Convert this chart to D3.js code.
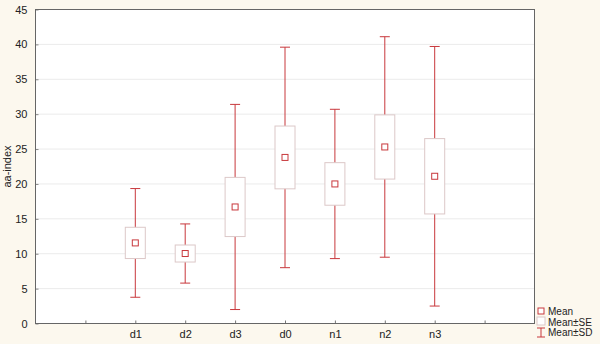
<!DOCTYPE html>
<html>
<head>
<meta charset="utf-8">
<script src="https://cdn.jsdelivr.net/npm/d3@7"></script>
<style>
  html, body { margin: 0; padding: 0; background: #fcf8ee; }
  svg { display: block; font-family: "Liberation Sans", Arial, sans-serif; }
</style>
</head>
<body>
<svg id="chart" width="600" height="344"></svg>
<script>
// Groups and their summary statistics (aa-index)
const categories = ["d1", "d2", "d3", "d0", "n1", "n2", "n3"];
const means = [11.55, 10.03, 16.7, 23.8, 20.0, 25.3, 21.1];
const stdErrors = [2.24, 1.22, 4.24, 4.5, 3.05, 4.6, 5.4];
const stdDevs = [7.79, 4.24, 14.7, 15.8, 10.7, 15.8, 18.6];
const yTicks = [0, 5, 10, 15, 20, 25, 30, 35, 40, 45];
const legendItems = ["Mean", "Mean±SE", "Mean±SD"];

const svg = d3.select("#chart");
const margin = { left: 35.5, right: 65.5, top: 9.5, bottom: 20.5 };
const W = 600, H = 344;
const x0 = margin.left, x1 = W - margin.right;
const y0 = H - margin.bottom, y1 = margin.top;

// blank slots on either side of the groups
const domain = ["_l"].concat(categories, ["_r"]);
const x = d3.scalePoint().domain(domain).range([x0, x1]).padding(1);
const y = d3.scaleLinear().domain([0, 45]).range([y0, y1]);

const red = "#c8383c";
const boxStroke = "#dcc8c8";

// plot area
svg.append("rect").attr("x", x0).attr("y", y1)
  .attr("width", x1 - x0).attr("height", y0 - y1).attr("fill", "#ffffff");

// horizontal gridlines
svg.append("g").selectAll("line").data(yTicks.filter(t => t > 0 && t < 45)).join("line")
  .attr("x1", x0).attr("x2", x1)
  .attr("y1", d => y(d)).attr("y2", d => y(d))
  .attr("stroke", "#ebebeb").attr("stroke-width", 1);

// y axis
const yAxis = svg.append("g").attr("transform", `translate(${x0},0)`)
  .call(d3.axisLeft(y).tickValues(yTicks).tickSize(-3).tickPadding(8));
yAxis.select(".domain").remove();
yAxis.selectAll(".tick line").attr("stroke", "#888");
yAxis.selectAll("text").attr("font-size", 11).attr("fill", "#222");

// x axis
const xAxis = svg.append("g").attr("transform", `translate(0,${y0})`)
  .call(d3.axisBottom(x).tickSize(-3).tickPadding(7)
    .tickFormat(d => d.startsWith("_") ? "" : d));
xAxis.select(".domain").remove();
xAxis.selectAll(".tick line").attr("stroke", "#777");
xAxis.selectAll("text").attr("font-size", 11).attr("fill", "#222");

// frame
svg.append("rect").attr("x", x0).attr("y", y1)
  .attr("width", x1 - x0).attr("height", y0 - y1)
  .attr("fill", "none").attr("stroke", "#666").attr("stroke-width", 1);

// y axis title
svg.append("text")
  .attr("transform", `translate(11,${(y0 + y1) / 2}) rotate(-90)`)
  .attr("text-anchor", "middle").attr("font-size", 11).attr("fill", "#222")
  .text("aa-index");

const data = categories.map((c, i) => ({
  c, mean: means[i], se: stdErrors[i], sd: stdDevs[i]
}));

const boxW = 20, capW = 10, mk = 6;
const g = svg.append("g").selectAll("g").data(data).join("g")
  .attr("transform", d => `translate(${x(d.c)},0)`);

// whiskers (mean ± SD)
g.append("line").attr("x1", 0).attr("x2", 0)
  .attr("y1", d => y(d.mean + d.sd)).attr("y2", d => y(d.mean - d.sd))
  .attr("stroke", red).attr("stroke-width", 1);
g.append("line").attr("x1", -capW / 2).attr("x2", capW / 2)
  .attr("y1", d => y(d.mean + d.sd)).attr("y2", d => y(d.mean + d.sd))
  .attr("stroke", red).attr("stroke-width", 1);
g.append("line").attr("x1", -capW / 2).attr("x2", capW / 2)
  .attr("y1", d => y(d.mean - d.sd)).attr("y2", d => y(d.mean - d.sd))
  .attr("stroke", red).attr("stroke-width", 1);

// boxes (mean ± SE)
g.append("rect").attr("x", -boxW / 2).attr("width", boxW)
  .attr("y", d => y(d.mean + d.se))
  .attr("height", d => y(d.mean - d.se) - y(d.mean + d.se))
  .attr("fill", "#ffffff").attr("stroke", boxStroke).attr("stroke-width", 1);

// mean markers
g.append("rect").attr("x", -mk / 2).attr("width", mk)
  .attr("y", d => y(d.mean) - mk / 2).attr("height", mk)
  .attr("fill", "#ffffff").attr("stroke", red).attr("stroke-width", 1);

// legend
const lg = svg.append("g").attr("transform", "translate(541,0)");
lg.append("rect").attr("x", -3).attr("y", 308).attr("width", 6).attr("height", 6)
  .attr("fill", "#fff").attr("stroke", red).attr("stroke-width", 1);
lg.append("rect").attr("x", -4).attr("y", 317).attr("width", 8).attr("height", 8)
  .attr("fill", "#fff").attr("stroke", boxStroke).attr("stroke-width", 1);
lg.append("line").attr("x1", 0).attr("x2", 0).attr("y1", 328).attr("y2", 337)
  .attr("stroke", red).attr("stroke-width", 1);
lg.append("line").attr("x1", -4).attr("x2", 4).attr("y1", 328).attr("y2", 328)
  .attr("stroke", red).attr("stroke-width", 1);
lg.append("line").attr("x1", -4).attr("x2", 4).attr("y1", 337).attr("y2", 337)
  .attr("stroke", red).attr("stroke-width", 1);
lg.selectAll("text").data(legendItems).join("text")
  .attr("x", 7).attr("y", (d, i) => 315 + i * 10.5)
  .attr("font-size", 10).attr("fill", "#222")
  .text(d => d);
</script>
</body>
</html>
